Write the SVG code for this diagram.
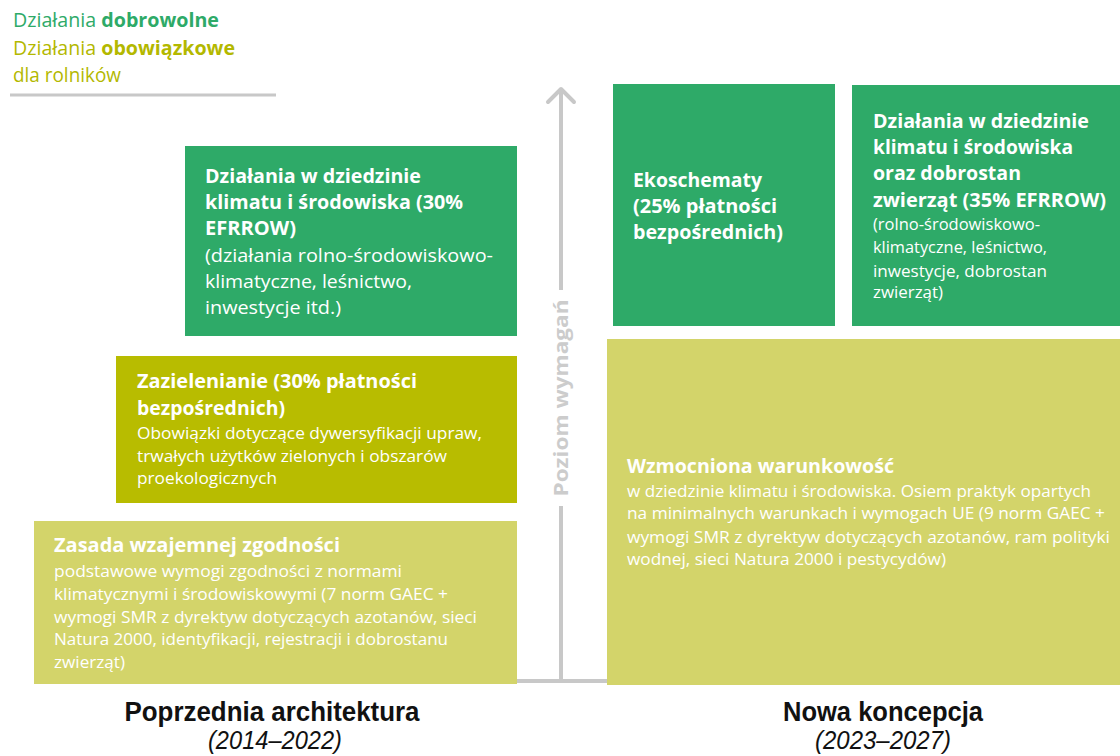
<svg xmlns="http://www.w3.org/2000/svg" width="1120" height="756" viewBox="0 0 1120 756">
  <defs>
    <style>
      .txt { font-family: "Open Sans", "Noto Sans", "Liberation Sans", sans-serif; fill: #ffffff; }
      .b { font-weight: 700; font-size: 19px; }
      .r { font-weight: 400; font-size: 19px; }
      .s { font-weight: 400; font-size: 16.5px; }
      .green { fill: #2eaa68; }
      .olive { fill: #b8bc00; }
      .light { fill: #d3d46a; }
      .axis { stroke: #c8c8c8; stroke-width: 4; fill: none; }
      .cap { font-family: "Liberation Sans Narrow", "Liberation Sans", sans-serif; fill: #111111; }
    </style>
  </defs>

  <rect width="1120" height="756" fill="#ffffff"/>

  <!-- legend -->
  <g id="legend" class="txt" font-size="19.5">
    <text x="13" y="27" style="fill:#2eaa68" textLength="206" lengthAdjust="spacingAndGlyphs">Działania <tspan font-weight="700">dobrowolne</tspan></text>
    <text x="13" y="55" style="fill:#b3b800" textLength="222" lengthAdjust="spacingAndGlyphs">Działania <tspan font-weight="700">obowiązkowe</tspan></text>
    <text x="13" y="82" style="fill:#b3b800" textLength="108" lengthAdjust="spacingAndGlyphs">dla rolników</text>
    <line x1="10" y1="95" x2="276" y2="95" stroke="#c8c8c8" stroke-width="3"/>
  </g>

  <!-- requirement level axis -->
  <g id="connectors">
    <line class="axis" x1="561" y1="89" x2="561" y2="290"/>
    <line class="axis" x1="561" y1="506" x2="561" y2="681"/>
    <polyline class="axis" points="548,102 561,89 574,102" stroke-linecap="round" stroke-linejoin="round"/>
    <line x1="517" y1="681" x2="607" y2="681" stroke="#c8c8c8" stroke-width="4"/>
    <text x="568" y="398" transform="rotate(-90 568 398)" text-anchor="middle" font-family="'Open Sans', 'Noto Sans', sans-serif" font-weight="700" font-size="19" fill="#cccccc" textLength="197" lengthAdjust="spacingAndGlyphs">Poziom wymagań</text>
  </g>

  <!-- previous architecture -->
  <g id="climate-env-old">
    <rect class="green" x="185" y="146" width="332" height="190"/>
    <g class="txt">
      <text class="b" x="205" y="183" textLength="216" lengthAdjust="spacingAndGlyphs">Działania w dziedzinie</text>
      <text class="b" x="205" y="209" textLength="258" lengthAdjust="spacingAndGlyphs">klimatu i środowiska (30%</text>
      <text class="b" x="205" y="235" textLength="91" lengthAdjust="spacingAndGlyphs">EFRROW)</text>
      <text class="r" x="205" y="262" textLength="288" lengthAdjust="spacingAndGlyphs">(działania rolno-środowiskowo-</text>
      <text class="r" x="205" y="288" textLength="207" lengthAdjust="spacingAndGlyphs">klimatyczne, leśnictwo,</text>
      <text class="r" x="205" y="314" textLength="136" lengthAdjust="spacingAndGlyphs">inwestycje itd.)</text>
    </g>
  </g>

  <g id="greening">
    <rect class="olive" x="116" y="356" width="401" height="147"/>
    <g class="txt">
      <text class="b" x="137" y="388" textLength="280" lengthAdjust="spacingAndGlyphs">Zazielenianie (30% płatności</text>
      <text class="b" x="137" y="415" textLength="148" lengthAdjust="spacingAndGlyphs">bezpośrednich)</text>
      <text class="s" x="137" y="439" textLength="345" lengthAdjust="spacingAndGlyphs">Obowiązki dotyczące dywersyfikacji upraw,</text>
      <text class="s" x="137" y="462" textLength="310" lengthAdjust="spacingAndGlyphs">trwałych użytków zielonych i obszarów</text>
      <text class="s" x="137" y="484" textLength="140" lengthAdjust="spacingAndGlyphs">proekologicznych</text>
    </g>
  </g>

  <g id="cross-compliance">
    <rect class="light" x="34" y="521" width="483" height="163"/>
    <g class="txt">
      <text class="b" x="54" y="552" textLength="286" lengthAdjust="spacingAndGlyphs">Zasada wzajemnej zgodności</text>
      <text class="s" x="54" y="577" textLength="348" lengthAdjust="spacingAndGlyphs">podstawowe wymogi zgodności z normami</text>
      <text class="s" x="54" y="600" textLength="394" lengthAdjust="spacingAndGlyphs">klimatycznymi i środowiskowymi (7 norm GAEC +</text>
      <text class="s" x="54" y="623" textLength="423" lengthAdjust="spacingAndGlyphs">wymogi SMR z dyrektyw dotyczących azotanów, sieci</text>
      <text class="s" x="54" y="645" textLength="394" lengthAdjust="spacingAndGlyphs">Natura 2000, identyfikacji, rejestracji i dobrostanu</text>
      <text class="s" x="54" y="668" textLength="71" lengthAdjust="spacingAndGlyphs">zwierząt)</text>
    </g>
  </g>

  <!-- new concept -->
  <g id="eco-schemes">
    <rect class="green" x="613" y="84" width="222" height="242"/>
    <g class="txt">
      <text class="b" x="633" y="187" textLength="129" lengthAdjust="spacingAndGlyphs">Ekoschematy</text>
      <text class="b" x="633" y="213" textLength="144" lengthAdjust="spacingAndGlyphs">(25% płatności</text>
      <text class="b" x="633" y="239" textLength="150" lengthAdjust="spacingAndGlyphs">bezpośrednich)</text>
    </g>
  </g>

  <g id="climate-env-new">
    <rect class="green" x="852" y="85" width="268" height="241"/>
    <g class="txt">
      <text class="b" x="873" y="128" textLength="216" lengthAdjust="spacingAndGlyphs">Działania w dziedzinie</text>
      <text class="b" x="873" y="154" textLength="200" lengthAdjust="spacingAndGlyphs">klimatu i środowiska</text>
      <text class="b" x="873" y="180" textLength="148" lengthAdjust="spacingAndGlyphs">oraz dobrostan</text>
      <text class="b" x="873" y="207" textLength="233" lengthAdjust="spacingAndGlyphs">zwierząt (35% EFRROW)</text>
      <text class="s" x="873" y="230" textLength="167" lengthAdjust="spacingAndGlyphs">(rolno-środowiskowo-</text>
      <text class="s" x="873" y="253" textLength="174" lengthAdjust="spacingAndGlyphs">klimatyczne, leśnictwo,</text>
      <text class="s" x="873" y="277" textLength="174" lengthAdjust="spacingAndGlyphs">inwestycje, dobrostan</text>
      <text class="s" x="873" y="298" textLength="70" lengthAdjust="spacingAndGlyphs">zwierząt)</text>
    </g>
  </g>

  <g id="enhanced-conditionality">
    <rect class="light" x="607" y="339" width="513" height="346"/>
    <g class="txt">
      <text class="b" x="627" y="473" textLength="267" lengthAdjust="spacingAndGlyphs">Wzmocniona warunkowość</text>
      <text class="s" x="627" y="497" textLength="464" lengthAdjust="spacingAndGlyphs">w dziedzinie klimatu i środowiska. Osiem praktyk opartych</text>
      <text class="s" x="627" y="519" textLength="478" lengthAdjust="spacingAndGlyphs">na minimalnych warunkach i wymogach UE (9 norm GAEC +</text>
      <text class="s" x="627" y="543" textLength="483" lengthAdjust="spacingAndGlyphs">wymogi SMR z dyrektyw dotyczących azotanów, ram polityki</text>
      <text class="s" x="627" y="565" textLength="319" lengthAdjust="spacingAndGlyphs">wodnej, sieci Natura 2000 i pestycydów)</text>
    </g>
  </g>

  <!-- period captions -->
  <g id="caption-old" class="cap" text-anchor="middle">
    <text x="272" y="721" font-size="27" font-weight="700" textLength="295" lengthAdjust="spacingAndGlyphs">Poprzednia architektura</text>
    <text x="275" y="749" font-size="25" font-style="italic" textLength="134" lengthAdjust="spacingAndGlyphs">(2014–2022)</text>
  </g>
  <g id="caption-new" class="cap" text-anchor="middle">
    <text x="883" y="721" font-size="27" font-weight="700" textLength="200" lengthAdjust="spacingAndGlyphs">Nowa koncepcja</text>
    <text x="883" y="749" font-size="25" font-style="italic" textLength="136" lengthAdjust="spacingAndGlyphs">(2023–2027)</text>
  </g>
</svg>
